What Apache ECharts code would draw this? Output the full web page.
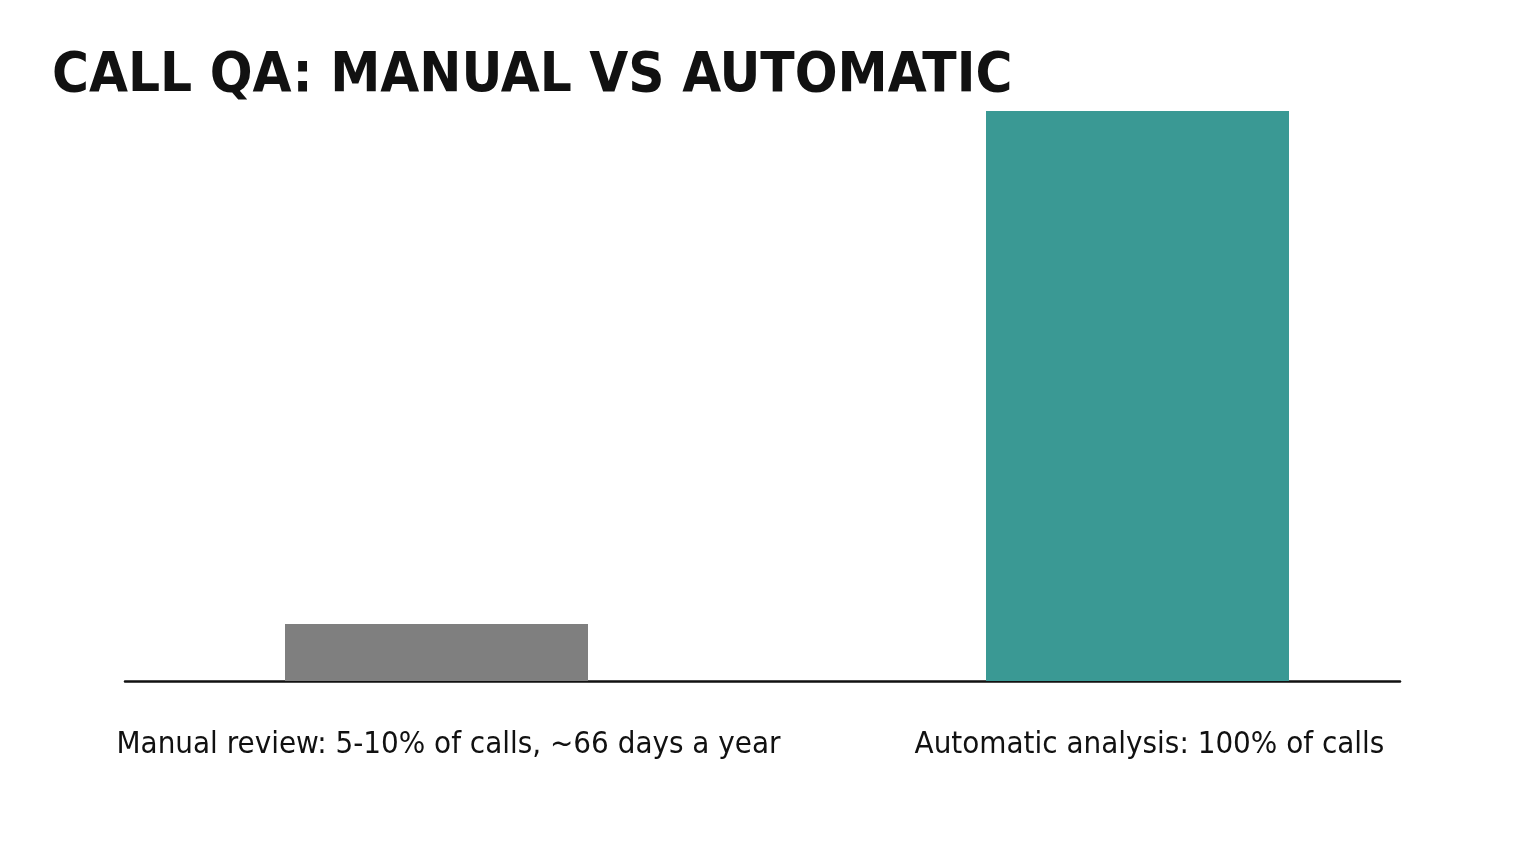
<!DOCTYPE html>
<html>
<head>
<meta charset="utf-8">
<script src="https://cdn.jsdelivr.net/npm/echarts@6/dist/echarts.min.js"></script>
<style>
  html, body { margin: 0; padding: 0; background: #fff; }
  #chart { width: 1536px; height: 864px; }
</style>
</head>
<body>
<div id="chart"></div>
<script>
  'use strict';

  var categories = ['Manual review: 5-10% of calls, ~66 days a year', 'Automatic analysis: 100% of calls'];
  var coverage = [10, 100];
  var barColors = ['#7f7f7f', '#3a9994'];

  var chart = echarts.init(document.getElementById('chart'));

  var option = {
    backgroundColor: '#ffffff',
    animation: false,
    title: {
      text: 'CALL QA: MANUAL VS AUTOMATIC',
      left: 47,
      top: 43,
      textStyle: {
        fontFamily: '"DejaVu Sans Condensed", "DejaVu Sans", sans-serif',
        fontWeight: 'bold',
        fontSize: 56,
        color: '#111111'
      }
    },
    grid: [
      { left: 86, right: 48, top: 111, bottom: 183 },
      { left: 125, right: 136, top: 111, bottom: 183 }
    ],
    xAxis: [
      {
        gridIndex: 0,
        type: 'category',
        data: categories,
        axisLine: { show: false },
        axisTick: { show: false },
        axisLabel: {
          interval: 0,
          margin: 48,
          padding: [0, 0, 0, 24],
          fontFamily: '"DejaVu Sans Condensed", "DejaVu Sans", sans-serif',
          fontSize: 31,
          color: '#111111'
        }
      },
      {
        gridIndex: 1,
        type: 'category',
        data: ['', ''],
        axisLine: { show: true, lineStyle: { color: '#111111', width: 2.5 } },
        axisTick: { show: false },
        axisLabel: { show: false }
      }
    ],
    yAxis: [
      { gridIndex: 0, type: 'value', min: 0, max: 100, show: false },
      { gridIndex: 1, type: 'value', min: 0, max: 100, show: false }
    ],
    series: [
      {
        type: 'bar',
        xAxisIndex: 0,
        yAxisIndex: 0,
        barWidth: 303,
        data: coverage.map(function (v, i) {
          return { value: v, itemStyle: { color: barColors[i] } };
        })
      }
    ]
  };

  chart.setOption(option);
</script>
</body>
</html>
